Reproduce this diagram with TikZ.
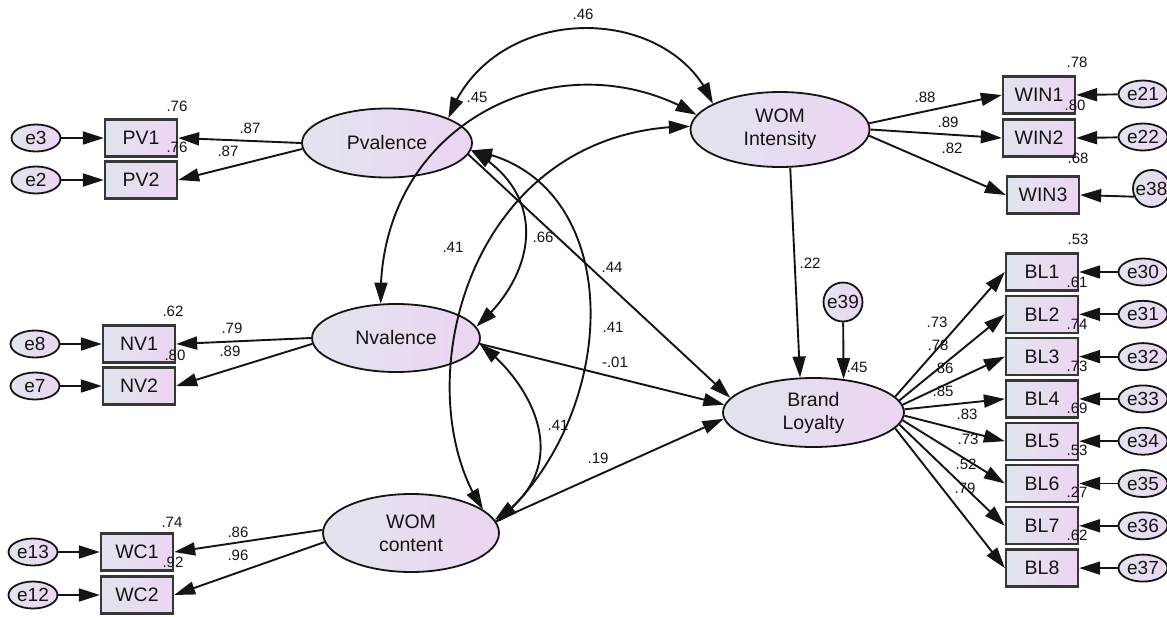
\documentclass[tikz,border=0pt]{standalone}
\usepackage{fontspec}
\setmainfont{Liberation Sans}
\usetikzlibrary{arrows.meta,bending,shapes.geometric}
\definecolor{cL}{RGB}{225,229,237}
\definecolor{cR}{RGB}{236,213,243}
\definecolor{ink}{RGB}{20,20,20}
\begin{document}
\begin{tikzpicture}[x=1pt,y=-1pt,
  >={Triangle[length=21pt,width=13pt]},
  lat/.style={ellipse, draw=ink, line width=1.8pt, left color=cL, right color=cR, inner sep=0pt, align=center, font=\fontsize{19.5}{23}\selectfont, text=ink},
  obs/.style={rectangle, draw=ink!85, line width=2.3pt, left color=cL, right color=cR, minimum width=72pt, minimum height=37pt, inner sep=0pt, font=\fontsize{19.5}{23}\selectfont, text=ink},
  err/.style={ellipse, draw=ink, line width=1.8pt, left color=cL, right color=cR, minimum width=49pt, minimum height=27pt, inner sep=0pt, font=\fontsize{19}{22}\selectfont, text=ink},
  errc/.style={circle, draw=ink, line width=1.8pt, left color=cL, right color=cR, minimum size=39pt, inner sep=0pt, font=\fontsize{19}{22}\selectfont, text=ink},
  num/.style={font=\fontsize{15}{17}\selectfont, text=ink, inner sep=0pt},
  pth/.style={->, line width=1.9pt, draw=ink},
  cov/.style={<->, line width=1.9pt, draw=ink}
]
\useasboundingbox (0,0) rectangle (1167,616);
\fill[white] (0,0) rectangle (1167,616);

% ---- left indicators
\node[err] (e3) at (36,138) {e3};
\node[obs] (PV1) at (141,138) {PV1};
\node[err] (e2) at (36,180) {e2};
\node[obs] (PV2) at (141,180) {PV2};
\node[err] (e8) at (35,344) {e8};
\node[obs] (NV1) at (139,344) {NV1};
\node[err] (e7) at (35,386) {e7};
\node[obs] (NV2) at (139,386) {NV2};
\node[err] (e13) at (33,552) {e13};
\node[obs] (WC1) at (137,552) {WC1};
\node[err] (e12) at (33,595) {e12};
\node[obs] (WC2) at (137,595) {WC2};

% ---- latents
\node[lat, minimum width=170pt, minimum height=69pt] (P) at (387,143) {Pvalence};
\node[lat, minimum width=168pt, minimum height=68pt] (N) at (396,338) {Nvalence};
\node[lat, minimum width=176pt, minimum height=78pt] (WC) at (411,533) {WOM\\content};
\node[lat, minimum width=179pt, minimum height=75pt] (WI) at (780,129.5) {WOM\\Intensity};
\node[lat, minimum width=181pt, minimum height=69pt] (BL) at (813.5,412.5) {Brand\\Loyalty};
\node[errc] (e39) at (843,302) {e39};

% ---- right indicators
\node[obs] (WIN1) at (1039,95) {WIN1};
\node[obs] (WIN2) at (1039,138) {WIN2};
\node[obs] (WIN3) at (1043,195) {WIN3};
\node[err] (e21) at (1143,94) {e21};
\node[err] (e22) at (1143,137) {e22};
\node[errc, minimum size=37pt] (e38) at (1151.5,188.5) {e38};

\node[obs] (BL1) at (1042,272) {BL1};
\node[obs] (BL2) at (1042,314.3) {BL2};
\node[obs] (BL3) at (1042,356.6) {BL3};
\node[obs] (BL4) at (1042,398.9) {BL4};
\node[obs] (BL5) at (1042,441.2) {BL5};
\node[obs] (BL6) at (1042,483.5) {BL6};
\node[obs] (BL7) at (1042,525.8) {BL7};
\node[obs] (BL8) at (1042,568.1) {BL8};
\node[err] (e30) at (1143,272) {e30};
\node[err] (e31) at (1143,314.3) {e31};
\node[err] (e32) at (1143,356.6) {e32};
\node[err] (e33) at (1143,398.9) {e33};
\node[err] (e34) at (1143,441.2) {e34};
\node[err] (e35) at (1143,483.5) {e35};
\node[err] (e36) at (1143,525.8) {e36};
\node[err] (e37) at (1143,568.1) {e37};

% ---- error arrows
\draw[pth] (e3) -- (PV1.west);
\draw[pth] (e2) -- (PV2.west);
\draw[pth] (e8) -- (NV1.west);
\draw[pth] (e7) -- (NV2.west);
\draw[pth] (e13) -- (WC1.west);
\draw[pth] (e12) -- (WC2.west);
\draw[pth] (e21) -- (WIN1.east);
\draw[pth] (e22) -- (WIN2.east);
\draw[pth] (e38.-155) -- (WIN3.east);
\draw[pth] (e30) -- (BL1.east);
\draw[pth] (e31) -- (BL2.east);
\draw[pth] (e32) -- (BL3.east);
\draw[pth] (e33) -- (BL4.east);
\draw[pth] (e34) -- (BL5.east);
\draw[pth] (e35) -- (BL6.east);
\draw[pth] (e36) -- (BL7.east);
\draw[pth] (e37) -- (BL8.east);
\draw[pth] (e39) -- (BL.48);

% ---- loadings
\draw[pth] (P.west) -- (PV1.east);
\draw[pth] (P.184) -- (PV2.east);
\draw[pth] (N.west) -- (NV1.east);
\draw[pth] (N.184) -- (NV2.east);
\draw[pth] (WC.178) -- (WC1.east);
\draw[pth] (WC.186) -- (WC2.east);
\draw[pth] (WI.4) -- (WIN1.west);
\draw[pth] (WI.0) -- (WIN2.west);
\draw[pth] (WI.-4) -- (WIN3.west);
\draw[pth] (BL.11) -- (BL1.west);
\draw[pth] (BL.8) -- (BL2.west);
\draw[pth] (BL.5) -- (BL3.west);
\draw[pth] (BL.2) -- (BL4.west);
\draw[pth] (BL.-2) -- (BL5.west);
\draw[pth] (BL.-5) -- (BL6.west);
\draw[pth] (BL.-8) -- (BL7.west);
\draw[pth] (BL.-11) -- (BL8.west);

% ---- structural paths
\draw[pth] (P.-8) -- (BL.170);
\draw[pth] (N.-4) -- (BL.175);
\draw[pth] (WC.8) -- (BL.184);
\draw[pth] (WI.-75) -- (BL.111);

% ---- covariances
\draw[cov] (P.22) .. controls +(43,-118) and +(-42,-103) .. (WI.159);
\draw[cov] (N.114) .. controls +(-5,-184) and +(-133,-80) .. (WI.170);
\draw[cov] (WI.178) .. controls +(-225,1) and +(-80,-118) .. (WC.18);
\draw[cov] (P.-5) .. controls +(75,40) and +(65,-57) .. (N.8);
\draw[cov] (P.-5) .. controls +(155,25) and +(129,-113) .. (WC.7);
\draw[cov] (N.-4) .. controls +(56,42) and +(81,-50) .. (WC.9);

% ---- labels
\node[num] (r1) at (177,106) {.76};
\node[num] (r2) at (177,147) {.76};
\node[num] (l1) at (250,128) {.87};
\node[num] (l2) at (228,151) {.87};
\node[num] (r3) at (173,311) {.62};
\node[num] (r4) at (175,355) {.80};
\node[num] (l3) at (232,328) {.79};
\node[num] (l4) at (230,351) {.89};
\node[num] (r5) at (172,522) {.74};
\node[num] (r6) at (173,562) {.92};
\node[num] (l5) at (238,532) {.86};
\node[num] (l6) at (238,555) {.96};

\node[num] (c1) at (583,14) {.46};
\node[num] (c2) at (477,97) {.45};
\node[num] (c3) at (453,247) {.41};
\node[num] (c4) at (543,237) {.66};
\node[num] (s1) at (612,267) {.44};
\node[num] (c5) at (613,327) {.41};
\node[num] (s2) at (615,362) {-.01};
\node[num] (c6) at (558,425) {.41};
\node[num] (s3) at (598,458) {.19};
\node[num] (s4) at (810,263) {.22};
\node[num] (r7) at (857,367) {.45};

\node[num] (r8) at (1077,62) {.78};
\node[num] (r9) at (1075,105) {.80};
\node[num] (r10) at (1078,158) {.68};
\node[num] (l7) at (925,97) {.88};
\node[num] (l8) at (948,122) {.89};
\node[num] (l9) at (952,148) {.82};

\node[num] (r11) at (1078,239) {.53};
\node[num] (r12) at (1077,282) {.61};
\node[num] (r13) at (1077,324) {.74};
\node[num] (r14) at (1077,366) {.73};
\node[num] (r15) at (1077,408) {.69};
\node[num] (r16) at (1077,450) {.53};
\node[num] (r17) at (1077,492) {.27};
\node[num] (r18) at (1077,535) {.62};

\node[num] (b1) at (937,322) {.73};
\node[num] (b2) at (938,345) {.78};
\node[num] (b3) at (943,368) {.86};
\node[num] (b4) at (943,391) {.85};
\node[num] (b5) at (967,414) {.83};
\node[num] (b6) at (968,439) {.73};
\node[num] (b7) at (966,464) {.52};
\node[num] (b8) at (965,488) {.79};
\end{tikzpicture}
\end{document}
